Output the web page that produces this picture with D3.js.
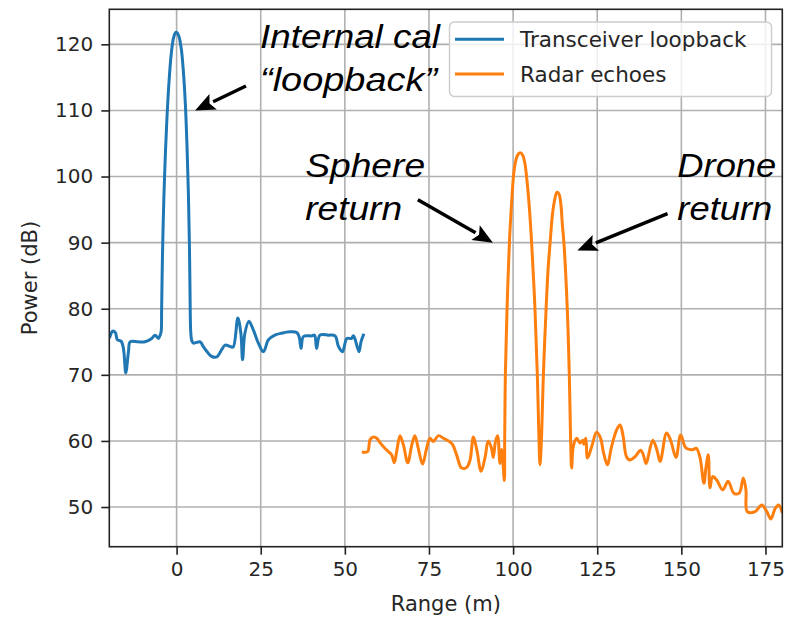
<!DOCTYPE html>
<html><head><meta charset="utf-8">
<script src="https://cdn.jsdelivr.net/npm/d3@7"></script>
<style>body{margin:0;background:#fff}</style>
</head><body><svg id="c" width="785" height="618"></svg>
<script>
const xTicks = [0, 25, 50, 75, 100, 125, 150, 175];
const yTicks = [50, 60, 70, 80, 90, 100, 110, 120];
const seriesNames = ["Transceiver loopback", "Radar echoes"];
const seriesColors = ["#1f77b4", "#ff7f0e"];

const loopRange = [-19.8,-19.0,-18.2,-17.6,-16.5,-15.8,-15.1,-14.3,-13.8,-11.5,-9.4,-7.4,-6.4,-5.4,-4.9,-4.6,
  -4.45,-4.2,-3.8,-3.4,-2.9,-2.3,-1.6,-0.9,-0.3,0.1,0.7,1.4,2.0,2.6,3.1,3.5,3.8,4.0,4.2,
  4.5,5.0,7.0,7.9,10.4,11.9,13.4,14.4,15.9,16.8,18.2,19.1,19.6,20.3,21.5,22.8,24.3,25.8,27.3,29.2,31.2,33.7,35.7,36.4,37.0,37.7,40.2,41.0,41.6,42.6,45.1,47.1,48.1,49.3,50.6,52.0,52.5,52.9,54.2,54.8,55.5];
const loopPower = [75.8,76.6,76.4,75.3,75.1,74.0,70.3,73.5,75.0,75.0,75.0,75.5,76.0,75.5,76.0,76.5,
  80,88,96.5,102.5,108.5,114,118.5,121,121.8,121.8,121.2,119.3,116,111,104.5,97.5,90,82,76.5,
  75.2,74.8,75.0,74.3,72.8,72.7,73.8,74.5,74.3,74.2,78.6,76.3,72.3,76.3,78.1,76.8,74.8,73.5,75.3,76.0,76.3,76.5,76.4,75.8,74.0,75.8,75.9,76.0,74.0,76.0,76.0,75.9,74.3,73.5,75.5,75.5,75.9,75.6,73.5,75.0,76.0];

const echoRange = [55.5,56.8,57.5,58.5,59.5,60.5,61.9,62.9,63.9,64.7,65.4,66.4,67.4,68.7,69.9,70.8,71.8,73.1,74.3,75.3,76.3,77.8,79.3,81.8,83.2,84.7,86.2,87.2,88.2,89.2,90.5,91.7,92.6,93.6,94.1,94.8,95.4,96.1,96.6,97.4,
  97.5,97.7,98.2,98.9,99.5,100.1,100.6,101.3,102.1,102.9,103.5,104.0,104.8,105.5,106.5,107.2,107.7,108.0,108.4,109.0,109.8,110.4,111.0,111.7,112.4,113.0,113.6,114.2,114.6,115.1,116.1,116.7,117.1,117.4,
  117.9,118.9,119.9,120.7,121.0,121.6,122.1,123.4,124.8,126.0,126.8,128.0,129.3,130.8,131.8,132.7,133.7,134.7,136.2,137.9,138.7,139.5,141.5,142.7,143.7,145.6,146.8,148.4,149.8,151.4,153.5,154.4,155.5,156.7,157.3,158.0,158.5,159.3,160.5,162.3,163.9,165.6,167.2,168.4,169.2,169.6,171.9,173.9,175.4,176.6,177.9,178.9,179.9];
const echoPower = [58.3,58.4,60.2,60.6,60.4,59.7,58.9,58.4,57.9,56.7,58.4,60.8,59.4,56.7,59.4,60.8,58.9,56.5,58.9,60.4,59.9,60.8,60.4,59.6,57.9,55.9,56.0,57.1,60.6,58.7,55.4,57.6,60.0,58.9,57.5,60.0,60.8,56.6,58.7,54.0,
  60,70,80,90,95.5,100,101.9,103.2,103.6,103.2,102.0,100,95.5,90,80,70,60,56.4,60,70,80,86,90,94.3,96.6,97.6,97.4,95.8,93,90,80,70,60,55.9,
  59.2,60.4,59.7,60.1,59.5,60.4,57.4,59.2,61.3,60.4,58.4,56.4,59.2,61.7,62.4,60.7,57.6,57.1,57.6,58.6,57.9,56.6,60.1,58.7,56.9,61.2,60.1,57.5,60.9,58.9,58.7,58.9,57.6,53.6,55.9,57.9,52.9,54.6,54.1,52.6,53.9,52.1,52.1,54.4,52.6,49.3,49.3,50.3,49.3,48.2,49.8,50.3,49.3];

// annotations, in data coordinates (range m, power dB)
const noteTexts = [
  {lines:["Internal cal","\u201Cloopback\u201D"], x:24.8, y:[119.4,112.9], w:[180,177]},
  {lines:["Sphere","return"], x:38.2, y:[100.0,93.5], w:[120,97]},
  {lines:["Drone","return"], x:148.8, y:[100.0,93.5], w:[99,95]}
];
const noteArrows = [
  {from:[20.6,113.7], to:[5.5,110.0]},
  {from:[71.7,96.5], to:[94.0,90.0]},
  {from:[145.9,94.4], to:[119.1,88.8]}
];

const svg = d3.select("#c");
const L = 109.3, R = 782.3, T = 9.3, B = 546.7;
const x = d3.scaleLinear().domain([-20, 180]).range([L, R]);
const y = d3.scaleLinear().domain([44.0, 125.3]).range([B, T]);

const font = "DejaVu Sans";
// grid
const grid = svg.append("g");
grid.selectAll("line.gx").data(xTicks).join("line")
  .attr("x1", d => x(d)).attr("x2", d => x(d)).attr("y1", T).attr("y2", B)
  .attr("stroke", "#b0b0b0").attr("stroke-width", 1.6);
grid.selectAll("line.gy").data(yTicks).join("line")
  .attr("y1", d => y(d)).attr("y2", d => y(d)).attr("x1", L).attr("x2", R)
  .attr("stroke", "#b0b0b0").attr("stroke-width", 1.6);

// axes
const xAxis = svg.append("g").attr("transform", `translate(0,${B})`)
  .call(d3.axisBottom(x).tickValues(xTicks).tickSize(8).tickPadding(7).tickFormat(d3.format("d")));
const yAxis = svg.append("g").attr("transform", `translate(${L},0)`)
  .call(d3.axisLeft(y).tickValues(yTicks).tickSize(8).tickPadding(8).tickFormat(d3.format("d")));
[xAxis, yAxis].forEach(a => {
  a.select(".domain").remove();
  a.selectAll(".tick line").attr("stroke", "#222").attr("stroke-width", 1.6);
  a.selectAll(".tick text").attr("fill", "#262626").attr("font-family", font).attr("font-size", 20);
});

// lines
svg.append("clipPath").attr("id", "pc").append("rect")
  .attr("x", L).attr("y", T).attr("width", R - L).attr("height", B - T);
const line = d3.line().x(d => x(d[0])).y(d => y(d[1])).curve(d3.curveCatmullRom.alpha(0.5));
const series = [d3.zip(loopRange, loopPower), d3.zip(echoRange, echoPower)];
svg.append("g").attr("clip-path", "url(#pc)").selectAll("path").data(series).join("path")
  .attr("d", line).attr("fill", "none")
  .attr("stroke", (d, i) => seriesColors[i]).attr("stroke-width", 3)
  .attr("stroke-linejoin", "round").attr("stroke-linecap", "square");

// frame
svg.append("rect").attr("x", L).attr("y", T).attr("width", R - L).attr("height", B - T)
  .attr("fill", "none").attr("stroke", "#222").attr("stroke-width", 1.6);

// axis labels
svg.append("text").attr("x", (L + R) / 2).attr("y", 611).attr("text-anchor", "middle")
  .attr("font-family", font).attr("font-size", 21).attr("fill", "#262626").text("Range (m)");
svg.append("text").attr("transform", `translate(37,${(T + B) / 2}) rotate(-90)`)
  .attr("text-anchor", "middle").attr("font-family", font).attr("font-size", 21)
  .attr("fill", "#262626").text("Power (dB)");

// legend
const lg = svg.append("g").attr("transform", `translate(${R - 10.8 - 322},${T + 12.7})`);
lg.append("rect").attr("width", 322).attr("height", 74.5).attr("rx", 5)
  .attr("fill", "#fff").attr("fill-opacity", 0.8).attr("stroke", "#cccccc").attr("stroke-width", 1.4);
seriesNames.forEach((n, i) => {
  const yy = 17.3 + i * 34.7;
  lg.append("line").attr("x1", 5.5).attr("x2", 54.5).attr("y1", yy).attr("y2", yy)
    .attr("stroke", seriesColors[i]).attr("stroke-width", 3);
  lg.append("text").attr("x", 70.5).attr("y", yy + 7.5).attr("font-family", font)
    .attr("font-size", 21.5).attr("fill", "#262626").text(n);
});

// annotations
const ann = svg.append("g");
noteTexts.forEach(t => {
  t.lines.forEach((s, i) => {
    ann.append("text").attr("x", x(t.x)).attr("y", y(t.y[i]))
      .attr("font-family", "Liberation Sans, Arial, sans-serif").attr("font-style", "italic")
      .attr("font-size", 34).attr("fill", "#000")
      .attr("textLength", t.w[i]).attr("lengthAdjust", "spacingAndGlyphs").text(s);
  });
});
noteArrows.forEach(a => {
  const x1 = x(a.from[0]), y1 = y(a.from[1]), x2 = x(a.to[0]), y2 = y(a.to[1]);
  const ang = Math.atan2(y2 - y1, x2 - x1);
  const hl = 20, hw = 8.5;
  const bx = x2 - hl * Math.cos(ang), by = y2 - hl * Math.sin(ang);
  ann.append("line").attr("x1", x1).attr("y1", y1).attr("x2", bx).attr("y2", by)
    .attr("stroke", "#000").attr("stroke-width", 3.5);
  const px = -Math.sin(ang), py = Math.cos(ang);
  ann.append("polygon").attr("points",
    [[x2, y2], [bx + hw * px, by + hw * py], [bx + 4 * Math.cos(ang), by + 4 * Math.sin(ang)], [bx - hw * px, by - hw * py]].map(p => p.join(",")).join(" "))
    .attr("fill", "#000");
});
</script></body></html>
